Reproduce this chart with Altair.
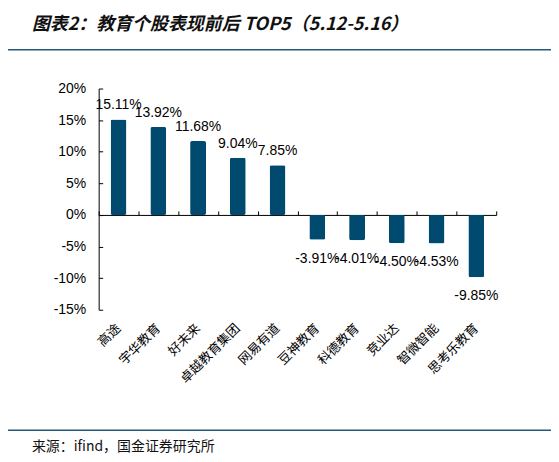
import altair as alt
import pandas as pd

names = ["高途", "宇华教育", "好未来", "卓越教育集团", "网易有道",
         "豆神教育", "科德教育", "竞业达", "智微智能", "思考乐教育"]
returns = [15.11, 13.92, 11.68, 9.04, 7.85, -3.91, -4.01, -4.50, -4.53, -9.85]
y_ticks = [-15, -10, -5, 0, 5, 10, 15, 20]

title_text = "图表2：教育个股表现前后 TOP5（5.12-5.16）"
source_text = "来源：ifind，国金证券研究所"

BAR = "#004A70"
LINE = "#1F5A7A"
W, H = 399, 222
LATIN = "Liberation Sans"
CJK = "Noto Sans CJK SC"

df = pd.DataFrame({"name": names, "ret": returns})
df["label"] = df["ret"].map(lambda v: f"{v:.2f}%")

y_scale = alt.Scale(domain=[min(y_ticks), max(y_ticks)], nice=False, zero=False)
x_scale = alt.Scale(paddingInner=0, paddingOuter=0)
zero_offset = -H * max(y_ticks) / (max(y_ticks) - min(y_ticks))

base = alt.Chart(df)

bars = base.mark_bar(color=BAR, cornerRadius=2, width=alt.RelativeBandSize(0.4)).encode(
    x=alt.X("name:N", sort=names, scale=x_scale, title=None,
            axis=alt.Axis(orient="bottom", domain=False, ticks=False, labelAngle=315,
                          labelAlign="right", labelBaseline="middle", labelPadding=16,
                          labelFont=CJK, labelFontSize=13, labelColor="#000")),
    y=alt.Y("ret:Q", scale=y_scale, title=None,
            axis=alt.Axis(orient="left", values=y_ticks, labelExpr="datum.value + '%'",
                          ticks=False, domain=True, domainColor="#000", domainWidth=1,
                          labelPadding=13, labelFont=LATIN, labelFontSize=14,
                          labelColor="#000", grid=False)),
)

# zero line with upward ticks at category boundaries, inward ticks on the y axis
zero_axis = base.mark_bar(opacity=0).encode(
    x=alt.X("name:N", sort=names, scale=x_scale, title=None,
            axis=alt.Axis(orient="top", offset=zero_offset, labels=False, tickBand="extent",
                          tickSize=4, tickColor="#000", domainColor="#000", domainWidth=1)),
    y=alt.Y("ret:Q", scale=y_scale, title=None,
            axis=alt.Axis(orient="right", offset=-W, values=y_ticks, labels=False,
                          domain=False, tickSize=4, tickColor="#000", grid=False)),
)

pos_labels = base.transform_filter("datum.ret > 0").mark_text(
    baseline="bottom", dy=-7, font=LATIN, fontSize=14, color="#000"
).encode(x=alt.X("name:N", sort=names, scale=x_scale, axis=None),
         y=alt.Y("ret:Q", scale=y_scale, axis=None), text="label:N")

neg_labels = base.transform_filter("datum.ret < 0").mark_text(
    baseline="top", dy=12, font=LATIN, fontSize=14, color="#000"
).encode(x=alt.X("name:N", sort=names, scale=x_scale, axis=None),
         y=alt.Y("ret:Q", scale=y_scale, axis=None), text="label:N")

title = alt.Chart(pd.DataFrame({"t": [title_text]})).mark_text(
    align="left", baseline="middle", font=CJK, fontSize=18,
    fontWeight="bold", fontStyle="italic", color="#111").encode(
    x=alt.value(-67), y=alt.value(-64), text="t:N")
source = alt.Chart(pd.DataFrame({"s": [source_text]})).mark_text(
    align="left", baseline="middle", font=CJK, fontSize=14, color="#111").encode(
    x=alt.value(-67), y=alt.value(360), text="s:N")
top_line = alt.Chart(pd.DataFrame({"k": ["top"]})).mark_rule(
    color=LINE, strokeWidth=1.5).encode(
    x=alt.value(-94), x2=alt.value(454), y=alt.value(-39))
bottom_line = alt.Chart(pd.DataFrame({"k": ["bottom"]})).mark_rule(
    color=LINE, strokeWidth=1.5).encode(
    x=alt.value(-94), x2=alt.value(454), y=alt.value(343))

chart = alt.layer(
    bars, zero_axis, pos_labels, neg_labels, title, source, top_line, bottom_line
).resolve_axis(x="independent", y="independent").properties(
    width=W, height=H,
    autosize=alt.AutoSizeParams(type="none"),
    padding={"left": 91, "top": 80, "right": 55, "bottom": 150},
).configure_view(stroke=None).configure_axis(grid=False)

chart.save("out.html", embed_options={"renderer": "svg", "actions": False})
